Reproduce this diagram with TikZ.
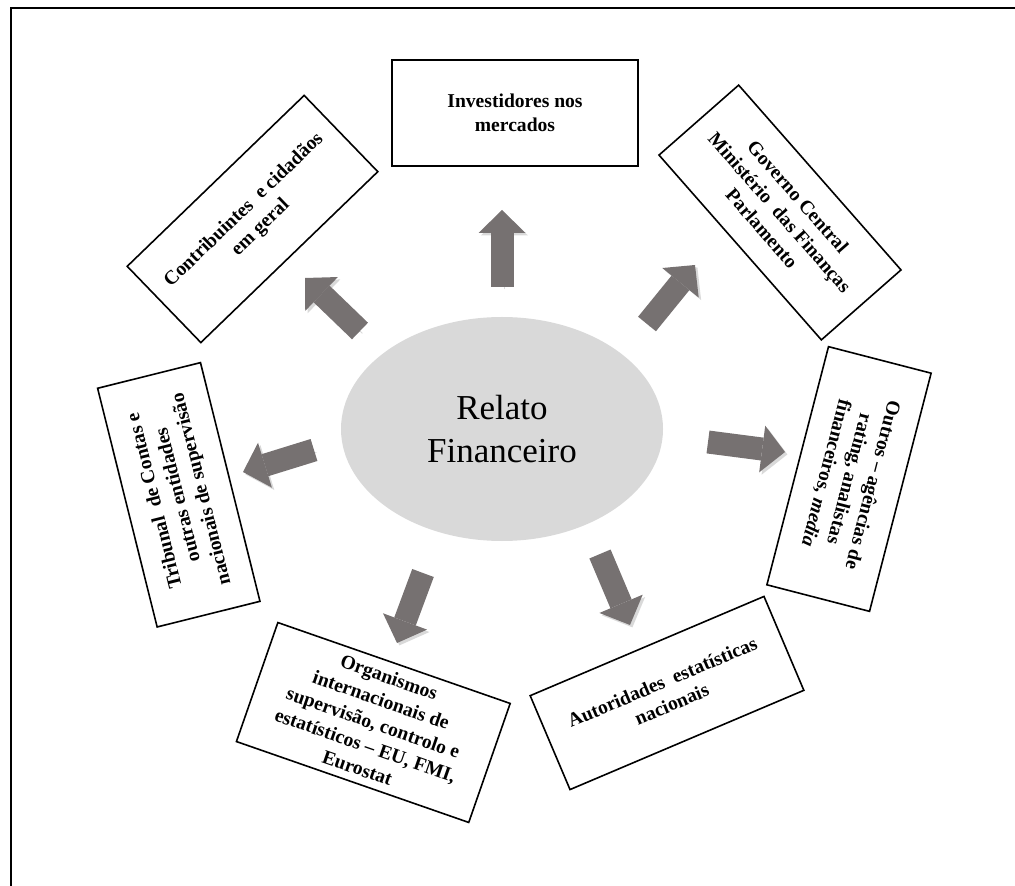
\documentclass[tikz,border=0pt]{standalone}
\usepackage{fontspec}
\setmainfont{Liberation Serif}
\usetikzlibrary{arrows.meta, shapes.geometric}
\definecolor{arrowgray}{RGB}{118,113,113}
\definecolor{ovalgray}{RGB}{217,217,217}
\tikzset{
    % centre
    centreoval/.style={ellipse, fill=ovalgray, draw=none, inner sep=0pt,
                minimum width=161pt, minimum height=112pt, align=center,
                font=\fontsize{17.5}{21.5}\selectfont},
    % user boxes
    userbox/.style={rectangle, draw=black, line width=0.8pt, fill=white,
                minimum width=123pt, minimum height=53pt, align=center, inner sep=1.5pt,
                font=\fontsize{9.8}{12}\selectfont\bfseries},
    % block arrows
    blockarrow/.style={line width=11.5pt, draw=arrowgray,
                -{Triangle[length=11.5pt, width=23.5pt, line width=0pt]},
                preaction={draw=black!15, transform canvas={shift={(1.2pt,-1.2pt)}}}},
}
\begin{document}
\begin{tikzpicture}[x=0.5pt, y=-0.5pt]
\useasboundingbox (0,0) rectangle (1015,886);
\draw[line width=1pt] (11,886) -- (11,8) -- (1015,8);

\node[centreoval] (relato) at (502,429) {Relato\\Financeiro};

\node[userbox] (invest) at (515,113) {Investidores nos\\mercados};
\node[userbox, rotate=44] (contrib) at (252.5,219) {Contribuintes\ \ e cidadãos\\em geral};
\node[userbox, rotate=-48.7] (governo) at (780,212.5)
    {Governo Central\\Ministério\ \ das Finanças\\Parlamento};
\node[userbox, rotate=104] (tribunal) at (178.8,494.8)
    {Tribunal\ \ de Contas e\\outras entidades\\nacionais de supervisão};
\node[userbox, rotate=-104.5] (outros) at (849,479)
    {Outros -- agências de\\rating, analistas\\financeiros, \textit{media}};
\node[userbox, rotate=-19.2, minimum height=63pt] (organismos) at (373.3,722.5)
    {Organismos\\internacionais de\\supervisão, controlo e\\estatísticos -- EU, FMI,\\Eurostat};
\node[userbox, rotate=23, minimum width=127pt, minimum height=51pt] (autoridades) at (667,693)
    {Autoridades\ \ estatísticas\\nacionais};

% arrow ends
\coordinate (invS) at (502,287);   \coordinate (invE) at (502,210);
\coordinate (conS) at (360,331);   \coordinate (conE) at (305,278);
\coordinate (govS) at (647,324);   \coordinate (govE) at (695,265);
\coordinate (triS) at (314,450);   \coordinate (triE) at (243,472);
\coordinate (outS) at (708,442);   \coordinate (outE) at (785,452);
\coordinate (orgS) at (423,573);   \coordinate (orgE) at (397,643);
\coordinate (autS) at (600,554);   \coordinate (autE) at (630,625);

\draw[blockarrow] (invS) -- (invE);
\draw[blockarrow] (conS) -- (conE);
\draw[blockarrow] (govS) -- (govE);
\draw[blockarrow] (triS) -- (triE);
\draw[blockarrow] (outS) -- (outE);
\draw[blockarrow] (orgS) -- (orgE);
\draw[blockarrow] (autS) -- (autE);
\end{tikzpicture}
\end{document}
